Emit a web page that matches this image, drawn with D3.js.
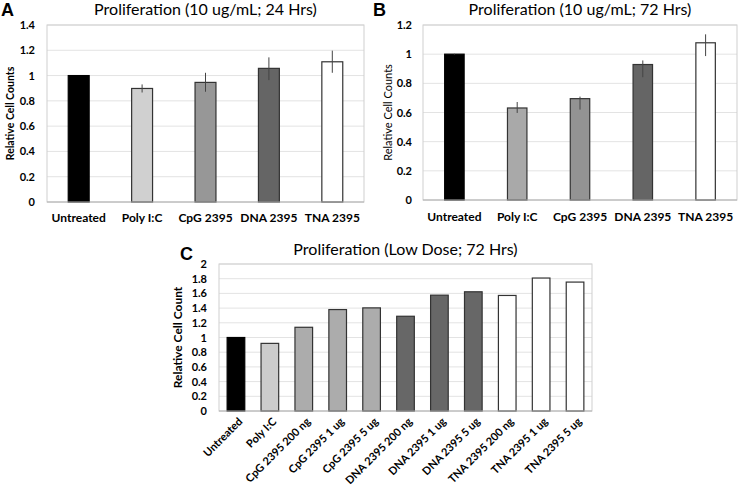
<!DOCTYPE html>
<html><head><meta charset="utf-8">
<script src="https://cdn.jsdelivr.net/npm/d3@7"></script>
<style>body{margin:0;background:#fff}svg{display:block}</style>
</head><body>
<svg id="c" width="741" height="489"></svg>
<script>
const catsAB = ["Untreated","Poly I:C","CpG 2395","DNA 2395","TNA 2395"];
const valsA = [1.0, 0.898, 0.946, 1.057, 1.109];
const errLoA = [1.0, 0.866, 0.872, 0.964, 1.022];
const errHiA = [1.0, 0.930, 1.022, 1.144, 1.197];
const colorsA = ["#000000","#d0d0d0","#979797","#656565","#ffffff"];
const ticksA = [0,0.2,0.4,0.6,0.8,1,1.2,1.4];

const valsB = [1.0, 0.631, 0.695, 0.929, 1.078];
const errLoB = [0.997, 0.597, 0.620, 0.842, 0.987];
const errHiB = [1.003, 0.672, 0.709, 0.957, 1.136];
const colorsB = ["#000000","#a9a9a9","#939393","#656565","#ffffff"];
const ticksB = [0,0.2,0.4,0.6,0.8,1,1.2];

const catsC = ["Untreated","Poly I:C","CpG 2395 200 ng","CpG 2395 1 ug","CpG 2395 5 ug","DNA 2395 200 ng","DNA 2395 1 ug","DNA 2395 5 ug","TNA 2395 200 ng","TNA 2395 1 ug","TNA 2395 5 ug"];
const valsC = [1.0, 0.92, 1.139, 1.38, 1.403, 1.289, 1.576, 1.622, 1.572, 1.809, 1.754];
const colorsC = ["#000000","#cccccc","#acacac","#acacac","#acacac","#676767","#676767","#676767","#ffffff","#ffffff","#ffffff"];
const ticksC = [0,0.2,0.4,0.6,0.8,1,1.2,1.4,1.6,1.8,2];

const FONT = "Lato, 'Open Sans', sans-serif";
const svg = d3.select("#c");

function panel(o){
  const g = svg.append("g");
  const x = d3.scaleBand().domain(o.cats).range([o.x0,o.x1]).paddingInner(o.pad).paddingOuter(o.pad/2);
  const y = d3.scaleLinear().domain([0,o.ymax]).range([o.y1,o.y0]);
  g.append("g").selectAll("line").data(o.ticks.filter(t=>t>0)).join("line")
    .attr("x1",o.x0).attr("x2",o.x1).attr("y1",d=>y(d)).attr("y2",d=>y(d))
    .attr("stroke","#e3e3e3").attr("stroke-width",1);
  g.append("rect").attr("x",o.x0).attr("y",o.y0).attr("width",o.x1-o.x0).attr("height",o.y1-o.y0)
    .attr("fill","none").attr("stroke","#cfcfcf");
  const ya = d3.axisLeft(y).tickValues(o.ticks).tickSize(0).tickPadding(o.tickPad).tickFormat(d=>d3.format("~g")(d));
  const yg = g.append("g").attr("transform",`translate(${o.x0},0)`).call(ya);
  yg.select(".domain").remove();
  yg.selectAll("text").attr("font-family",FONT).attr("font-weight","bold").attr("font-size",o.tickFs).attr("fill","#000");
  g.append("g").selectAll("rect").data(o.vals).join("rect")
    .attr("x",(d,i)=>x(o.cats[i])).attr("width",x.bandwidth())
    .attr("y",d=>y(d)).attr("height",d=>y(0)-y(d))
    .attr("fill",(d,i)=>o.colors[i]).attr("stroke",(d,i)=>i===0?"#000":"#333").attr("stroke-width",1.2);
  g.append("line").attr("x1",o.x0).attr("x2",o.x1).attr("y1",y(0)).attr("y2",y(0)).attr("stroke","#b0b0b0");
  if(o.lo){
    g.append("g").selectAll("line").data(o.lo).join("line")
      .attr("x1",(d,i)=>x(o.cats[i])+x.bandwidth()/2).attr("x2",(d,i)=>x(o.cats[i])+x.bandwidth()/2)
      .attr("y1",d=>y(d)).attr("y2",(d,i)=>y(o.hi[i])).attr("stroke","#444").attr("stroke-width",1);
  }
  const xa = d3.axisBottom(x).tickSize(0).tickPadding(o.xPad);
  const xg = g.append("g").attr("transform",`translate(0,${o.y1})`).call(xa);
  xg.select(".domain").remove();
  xg.selectAll("text").attr("font-family",FONT).attr("font-weight","bold").attr("font-size",o.xFs).attr("fill","#000");
  if(o.rotate){
    xg.selectAll("text").attr("text-anchor","end").attr("dy","0")
      .attr("transform","translate(3,7) rotate(-45)");
  }
  g.append("text").attr("x",(o.x0+o.x1)/2).attr("y",o.titleY).attr("text-anchor","middle")
    .attr("font-family",FONT).attr("font-size",o.titleFs).attr("fill","#000").text(o.title);
  g.append("text").attr("transform",`translate(${o.ytX},${(o.y0+o.y1)/2}) rotate(-90)`).attr("text-anchor","middle")
    .attr("font-family",FONT).attr("font-size",o.ytFs).attr("font-weight",o.ytW).attr("fill","#000").text(o.ytitle);
  g.append("text").attr("x",o.lx).attr("y",o.ly).attr("font-family","'Liberation Sans', Arial, sans-serif")
    .attr("font-weight","bold").attr("font-size",18).attr("fill","#000").text(o.letter);
}

panel({cats:catsAB, vals:valsA, lo:errLoA, hi:errHiA, colors:colorsA, ticks:ticksA, ymax:1.4,
  x0:47, x1:364, y0:25, y1:202, pad:0.67, tickPad:12, tickFs:11, xPad:11, xFs:12,
  title:"Proliferation (10 ug/mL; 24 Hrs)", titleY:15, titleFs:16,
  ytitle:"Relative Cell Counts", ytX:14, ytFs:10.5, ytW:"bold", letter:"A", lx:1, ly:16});

panel({cats:catsAB, vals:valsB, lo:errLoB, hi:errHiB, colors:colorsB, ticks:ticksB, ymax:1.2,
  x0:423, x1:737, y0:25, y1:200, pad:0.69, tickPad:11, tickFs:11, xPad:12, xFs:12,
  title:"Proliferation (10 ug/mL; 72 Hrs)", titleY:15, titleFs:16,
  ytitle:"Relative Cell Counts", ytX:392, ytFs:11, ytW:"normal", letter:"B", lx:373, ly:16});

panel({cats:catsC, vals:valsC, colors:colorsC, ticks:ticksC, ymax:2,
  x0:219, x1:592, y0:264, y1:411, pad:0.48, tickPad:12, tickFs:11, xPad:6, xFs:11, rotate:true,
  title:"Proliferation (Low Dose; 72 Hrs)", titleY:255, titleFs:16,
  ytitle:"Relative Cell Count", ytX:182, ytFs:12, ytW:"bold", letter:"C", lx:180, ly:260});
</script>
</body></html>
